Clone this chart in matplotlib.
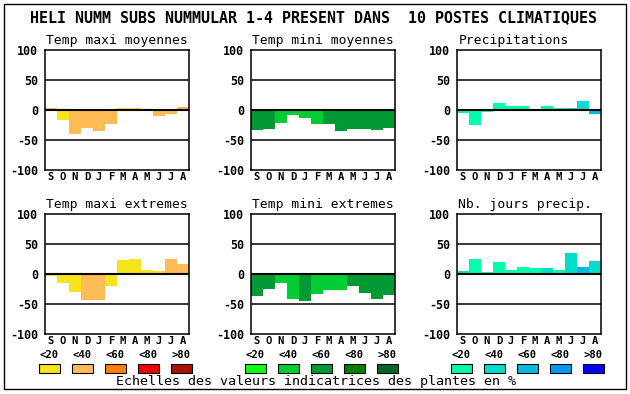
import numpy as np
import matplotlib
matplotlib.use('Agg')
import matplotlib.pyplot as plt
from matplotlib.patches import Rectangle

plt.rcParams.update({'font.family': 'DejaVu Sans Mono', 'figure.dpi': 100})

W, H = 630, 394

# ── Data ──
title = "HELI NUMM SUBS NUMMULAR 1-4 PRESENT DANS  10 POSTES CLIMATIQUES"
months = ["S", "O", "N", "D", "J", "F", "M", "A", "M", "J", "J", "A"]
classes = ["<20", "<40", "<60", "<80", ">80"]
footer = "Echelles des valeurs indicatrices des plantes en %"

warm = ["#f8e41c", "#ffbb55", "#ff8000", "#ee0000", "#aa1100"]
green = ["#11ff11", "#00cc33", "#009933", "#007f00", "#006622"]
blue = ["#00ffaa", "#00ddcc", "#00bbdd", "#0099ee", "#0000ff"]

tmax_moy = [4, -17, -40, -30, -35, -24, 4, 4, 0, -10, -7, 5]
tmax_moy_cls = [1, 0, 1, 1, 1, 1, 0, 0, 0, 1, 1, 1]
tmin_moy = [-34, -32, -21, -8, -14, -24, -23, -35, -32, -32, -34, -30]
tmin_moy_cls = [2, 2, 1, 1, 1, 1, 2, 2, 2, 2, 2, 2]
precip = [-5, -25, -4, 12, 7, 7, 2, 7, 4, 4, 15, -7]
precip_cls = [0, 0, 0, 0, 0, 0, 0, 0, 0, 1, 1, 2]

tmax_ext = [-4, -15, -30, -44, -44, -20, 24, 25, 7, 5, 25, 17]
tmax_ext_cls = [0, 0, 0, 1, 1, 0, 0, 0, 0, 0, 1, 1]
tmin_ext = [-37, -25, -15, -42, -45, -34, -27, -27, -20, -32, -42, -35]
tmin_ext_cls = [2, 2, 1, 1, 2, 1, 1, 1, 2, 2, 2, 2]
jours_precip = [5, 25, 4, 20, 7, 12, 10, 10, 7, 35, 12, 22]
jours_precip_cls = [1, 0, 0, 0, 0, 0, 0, 1, 0, 1, 2, 1]

panels = [
    ("Temp maxi moyennes", tmax_moy, tmax_moy_cls, warm),
    ("Temp mini moyennes", tmin_moy, tmin_moy_cls, green),
    ("Precipitations", precip, precip_cls, blue),
    ("Temp maxi extremes", tmax_ext, tmax_ext_cls, warm),
    ("Temp mini extremes", tmin_ext, tmin_ext_cls, green),
    ("Nb. jours precip.", jours_precip, jours_precip_cls, blue),
]

lefts = [45, 251, 457]
tops = [50, 214]
aw, ah = 144, 120


def fx(x):
    return x / W


def fy(y):
    return 1 - y / H


fig = plt.figure(figsize=(W / 100, H / 100), dpi=100)

# outer frame
fig.add_artist(Rectangle((fx(4), fy(389)), fx(622), 385 / H, transform=fig.transFigure,
                         fill=False, edgecolor="black", lw=1))

fig.text(fx(313), fy(18), title, ha="center", va="center",
         fontsize=10.8, fontweight="bold")

for k, (name, vals, cls, pal) in enumerate(panels):
    left = lefts[k % 3]
    top = tops[k // 3]
    ax = fig.add_axes([fx(left), fy(top + ah), aw / W, ah / H])
    x = np.arange(len(months))
    ax.bar(x, vals, width=1.0, color=[pal[c] for c in cls], lw=0, zorder=2)
    for yv in (50, -50):
        ax.axhline(yv, color="black", lw=1.1, zorder=3)
    ax.axhline(0, color="black", lw=1.5, zorder=3)
    ax.set_xlim(-0.5, 11.5)
    ax.set_ylim(-100, 100)
    ax.set_yticks([-100, -50, 0, 50, 100])
    ax.set_yticklabels(["-100", "-50", "0", "50", "100"], fontsize=8.4, fontweight="bold")
    ax.set_xticks(x)
    ax.set_xticklabels(months, fontsize=7.6, fontweight="bold")
    ax.tick_params(axis="x", length=0, pad=1.5)
    ax.tick_params(axis="y", length=0, pad=5)
    for s in ax.spines.values():
        s.set_linewidth(1.1)
    ax.set_title(name, loc="left", fontsize=9.4, pad=4, x=0.01)

    # colour scale legend under the bottom row
    if k >= 3:
        for j, lab in enumerate(classes):
            bx = left - 6 + j * 33
            fig.text(fx(bx + 10.5), fy(355), lab, ha="center", va="center",
                     fontsize=7.6, fontweight="bold")
            fig.add_artist(Rectangle((fx(bx), fy(373)), 21 / W, 9 / H,
                                     transform=fig.transFigure, facecolor=pal[j],
                                     edgecolor="black", lw=0.8))

fig.text(fx(316), fy(382), footer, ha="center", va="center", fontsize=9.6)

plt.savefig("out.png", dpi=100)
plt.close()
